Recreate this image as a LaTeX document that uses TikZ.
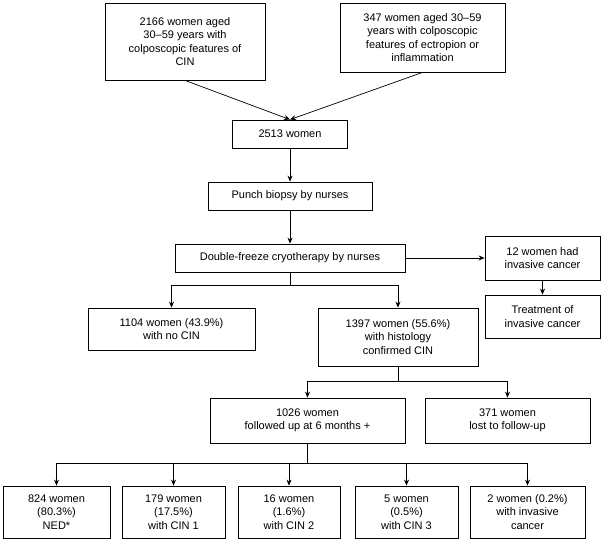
\documentclass[tikz,border=0pt]{standalone}
\usepackage{fontspec}
\setmainfont{Liberation Sans}
\usetikzlibrary{arrows.meta}
\begin{document}
\begin{tikzpicture}[x=1pt,y=-1pt,
  box/.style={draw,line width=0.8pt,align=center,inner sep=2pt,font=\fontsize{11}{13.5}\selectfont},
  arr/.style={-{Stealth[length=6pt,width=5pt]},line width=0.7pt},
  ln/.style={line width=0.7pt}]
\useasboundingbox (0,0) rectangle (601,541);
\node[box,minimum width=160,minimum height=77] (a) at (185,41.5) {2166 women aged\\30–59 years with\\colposcopic features of\\CIN};
\node[box,minimum width=165,minimum height=69] (b) at (422.5,37.5) {347 women aged 30–59\\years with colposcopic\\features of ectropion or\\inflammation};
\node[box,minimum width=115,minimum height=28] (c) at (290,134) {2513 women};
\node[box,minimum width=164,minimum height=28] (d) at (290,196) {Punch biopsy by nurses};
\node[box,minimum width=230,minimum height=28] (e) at (290,258) {Double-freeze cryotherapy by nurses};
\node[box,minimum width=115,minimum height=44] (f) at (542.5,258) {12 women had\\invasive cancer};
\node[box,minimum width=115,minimum height=43] (g) at (542.5,316.5) {Treatment of\\invasive cancer};
\node[box,minimum width=167,minimum height=42] (h) at (171.5,329) {1104 women (43.9\%)\\with no CIN};
\node[box,minimum width=160,minimum height=58] (i) at (398,337) {1397 women (55.6\%)\\with histology\\confirmed CIN};
\node[box,minimum width=195,minimum height=45] (j) at (307.5,420.5) {1026 women\\followed up at 6 months +};
\node[box,minimum width=165,minimum height=45] (k) at (507.5,420.5) {371 women\\lost to follow-up};
\node[box,minimum width=107,minimum height=52] (l1) at (56.5,512) {824 women\\(80.3\%)\\NED*};
\node[box,minimum width=103,minimum height=52] (l2) at (173.5,512) {179 women\\(17.5\%)\\with CIN 1};
\node[box,minimum width=102,minimum height=52] (l3) at (289,512) {16 women\\(1.6\%)\\with CIN 2};
\node[box,minimum width=103,minimum height=52] (l4) at (406.5,512) {5 women\\(0.5\%)\\with CIN 3};
\node[box,minimum width=115,minimum height=52] (l5) at (527.5,512) {2 women (0.2\%)\\with invasive\\cancer};
\draw[arr] (a.south) -- (c.north);
\draw[arr] (b.south) -- (c.north);
\draw[arr] (c) -- (d);
\draw[arr] (d) -- (e);
\draw[arr] (e) -- (f);
\draw[arr] (f) -- (g);
\coordinate (e1) at (290,285);
\draw[ln] (e.south) -- (e1);
\draw[arr] (h.north|-e1) -| (h.north);
\draw[ln] (h.north|-e1) -- (i.north|-e1);
\draw[arr] (i.north|-e1) -- (i.north);
\coordinate (i1) at (398,381);
\draw[ln] (i.south) -- (i1);
\draw[ln] (j.north|-i1) -- (k.north|-i1);
\draw[arr] (j.north|-i1) -- (j.north);
\draw[arr] (k.north|-i1) -- (k.north);
\coordinate (j1) at (307.5,463);
\draw[ln] (j.south) -- (j1);
\draw[ln] (l1.north|-j1) -- (l5.north|-j1);
\foreach \n in {l1,l2,l3,l4,l5} \draw[arr] (\n.north|-j1) -- (\n.north);
\end{tikzpicture}
\end{document}
